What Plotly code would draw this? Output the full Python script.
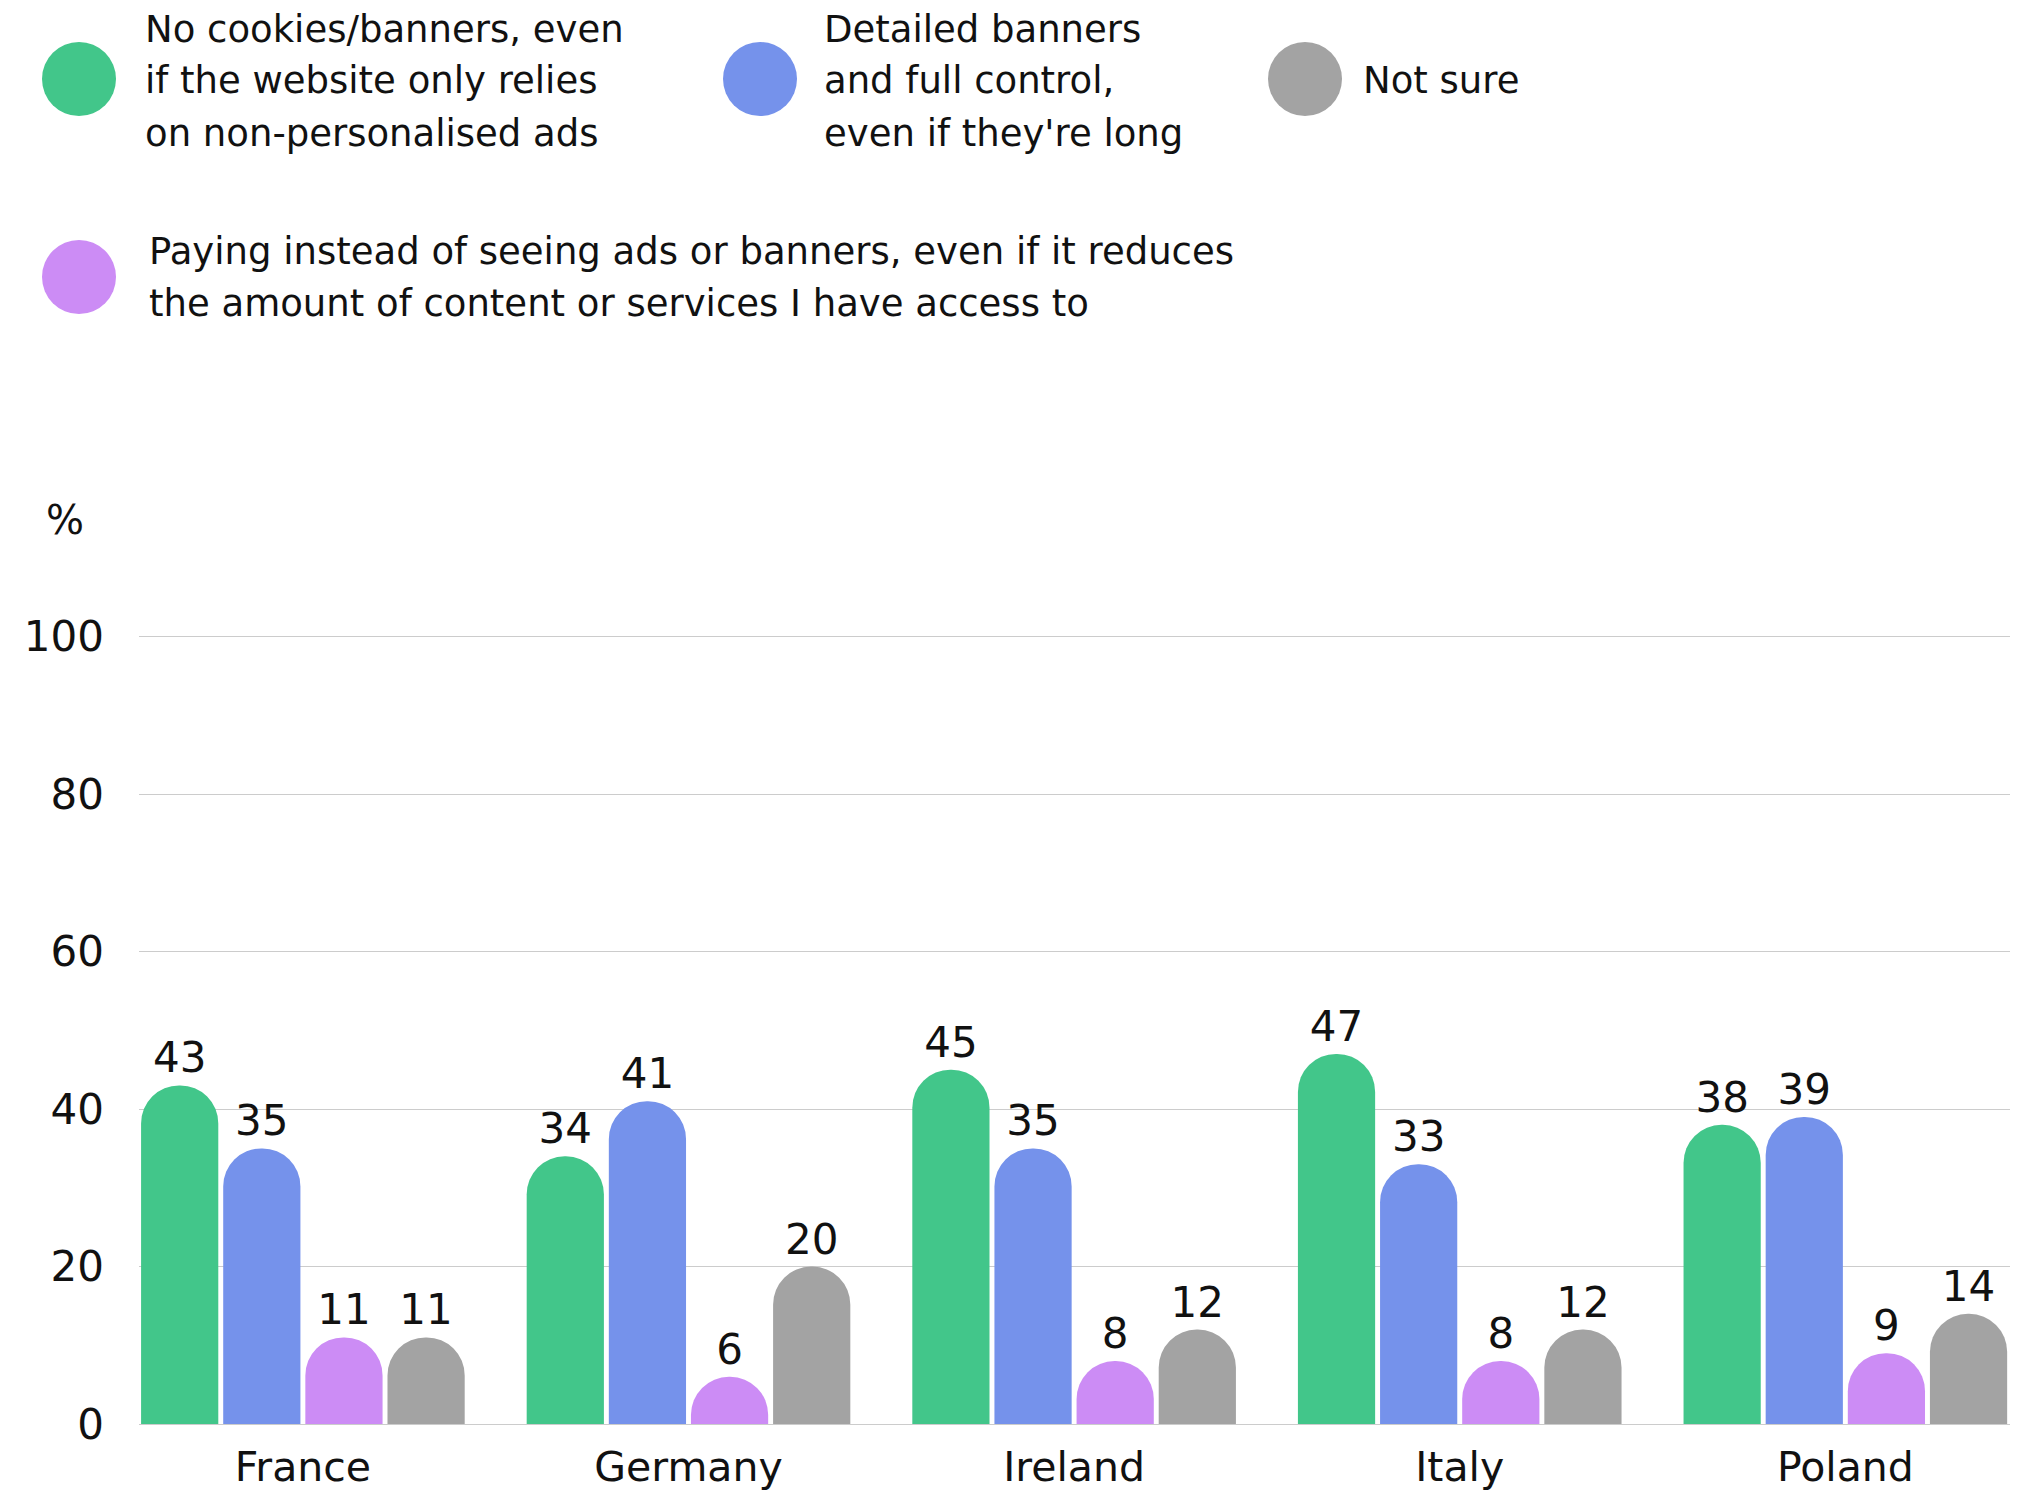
import plotly.graph_objects as go

countries = ["France", "Germany", "Ireland", "Italy", "Poland"]
series_lines = [
    ["No cookies/banners, even", "if the website only relies", "on non-personalised ads"],
    ["Detailed banners", "and full control,", "even if they're long"],
    ["Paying instead of seeing ads or banners, even if it reduces",
     "the amount of content or services I have access to"],
    ["Not sure"],
]
no_cookies = [43, 34, 45, 47, 38]
detailed = [35, 41, 35, 33, 39]
paying = [11, 6, 8, 8, 9]
not_sure = [11, 20, 12, 12, 14]
y_ticks = [0, 20, 40, 60, 80, 100]

colors = ["#42C68A", "#7592EB", "#CC8CF5", "#A3A3A3"]
values = [no_cookies, detailed, paying, not_sure]

FONT = "DejaVu Sans, Verdana, sans-serif"
# page has an 8px body margin, so the figure is slightly smaller than the window
W, H = 2020, 1487

fig = go.Figure()
for lines, vals, col in zip(series_lines, values, colors):
    fig.add_trace(go.Bar(
        x=countries, y=vals, name=" ".join(lines),
        marker=dict(color=col, cornerradius="50%", line=dict(width=0)),
        text=vals, textposition="outside", cliponaxis=False,
        textfont=dict(size=42, color="#111111", family=FONT),
        showlegend=False,
    ))

# plot area in page pixels
PL, PR, PT, PB = 139, 2010, 635, 1424

fig.update_layout(
    width=W, height=H,
    margin=dict(l=PL - 8, r=2036 - 8 - PR, t=PT - 8, b=1503 - 8 - PB),
    plot_bgcolor="white", paper_bgcolor="white",
    barmode="group", bargap=0.148, bargroupgap=0.06,
    font=dict(family=FONT, color="#111111"),
    xaxis=dict(range=[-0.425, 4.427], showgrid=False, zeroline=False, showline=False,
               automargin=False, tickfont=dict(size=41), ticks="", ticklabelstandoff=15),
    yaxis=dict(range=[0, 100.2], tickvals=y_ticks, showgrid=True, gridcolor="#CCCCCC",
               gridwidth=1.3, zeroline=True, zerolinecolor="#CCCCCC", zerolinewidth=1.3,
               showline=False, automargin=False, tickfont=dict(size=42), ticks="",
               ticklabelstandoff=34),
)


def px(x):
    return (x - PL) / (PR - PL)


def py(y):
    return (PB - y) / (PB - PT)


# (series index, circle cx, circle cy, text x, first-line y) in page pixels
legend_items = [
    (0, 79, 79, 143, 29),
    (1, 760, 79, 822, 29),
    (3, 1305, 79, 1361, 81),
    (2, 79, 277, 147, 251),
]
LINE_H = 52
r = 37
for idx, cx, cy, tx, ty in legend_items:
    fig.add_shape(type="circle", xref="paper", yref="paper",
                  x0=px(cx - r), x1=px(cx + r), y0=py(cy + r), y1=py(cy - r),
                  fillcolor=colors[idx], line=dict(width=0))
    for k, line in enumerate(series_lines[idx]):
        fig.add_annotation(xref="paper", yref="paper", x=px(tx), y=py(ty + k * LINE_H),
                           xanchor="left", yanchor="middle", align="left",
                           text=line, showarrow=False,
                           font=dict(size=37, color="#111111", family=FONT))

fig.add_annotation(xref="paper", yref="paper", x=px(44), y=py(520),
                   xanchor="left", yanchor="middle", text="%", showarrow=False,
                   font=dict(size=40, color="#111111", family=FONT))

fig.write_html("out.html")
